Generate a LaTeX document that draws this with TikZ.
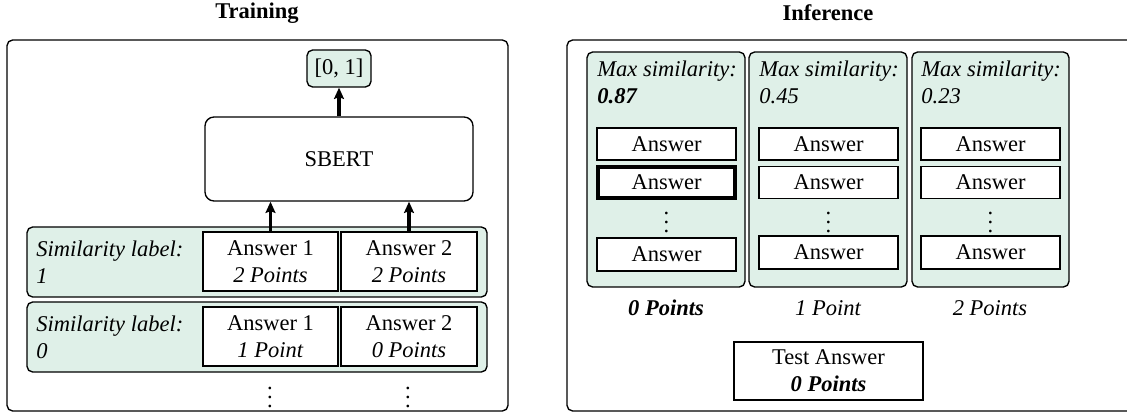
\documentclass[tikz,border=0pt]{standalone}
\usepackage{fontspec}
\setmainfont{Liberation Serif}
\usetikzlibrary{arrows.meta}
\definecolor{mint}{RGB}{223,240,232}
\def\pxu{0.4444pt}
\tikzset{
  frame/.style={draw, rounded corners=2.5pt, line width=0.6pt, inner sep=0pt},
  greenbox/.style={draw, fill=mint, rounded corners=2.5pt, line width=0.6pt, inner sep=0pt},
  plainbox/.style={draw, fill=white, line width=0.6pt, inner sep=0pt, align=center},
  thickbox/.style={draw, fill=white, line width=1.6pt, inner sep=0pt, align=center},
  bigbox/.style={draw, fill=white, rounded corners=4pt, line width=0.6pt, inner sep=0pt},
  title/.style={font=\bfseries},
  arr/.style={-{Stealth[length=5pt,width=4.4pt,inset=0.8pt]}, line width=1.5pt},
  lbl/.style={align=left, inner sep=0pt, font=\itshape},
}
\begin{document}
\begin{tikzpicture}[x=0.4444pt, y=-0.4444pt]
\useasboundingbox (0,0) rectangle (1127,414);
% ---------- Training ----------
\node[title] (ttrain) at (257,13) {Training};
\node[frame, minimum width=501*\pxu, minimum height=371*\pxu] (trainbox) at (257.5,225.5) {};
\node[greenbox, minimum width=64*\pxu, minimum height=37*\pxu] (out) at (339,68.5) {[0, 1]};
\node[bigbox, minimum width=268*\pxu, minimum height=84*\pxu] (sbert) at (339,159) {SBERT};
\node[greenbox, minimum width=460*\pxu, minimum height=70*\pxu] (row1) at (257,262) {};
\node[greenbox, minimum width=460*\pxu, minimum height=70*\pxu] (row2) at (257,337) {};
\node[plainbox, minimum width=135*\pxu, minimum height=59*\pxu] (a11) at (270.5,261.5) {Answer 1\\\textit{2 Points}};
\node[plainbox, minimum width=136*\pxu, minimum height=59*\pxu] (a12) at (409,261.5) {Answer 2\\\textit{2 Points}};
\node[plainbox, minimum width=135*\pxu, minimum height=59*\pxu] (a21) at (270.5,336.5) {Answer 1\\\textit{1 Point}};
\node[plainbox, minimum width=136*\pxu, minimum height=59*\pxu] (a22) at (409,336.5) {Answer 2\\\textit{0 Points}};
\node[lbl, anchor=west] (l1) at (36,262) {Similarity label:\\1};
\node[lbl, anchor=west] (l2) at (36,337) {Similarity label:\\0};
\node (d1) at (270,391) {$\vdots$};
\node (d2) at (408,391) {$\vdots$};
\draw[arr] (a11.north) -- (a11.north |- sbert.south);
\draw[arr] (a12.north) -- (a12.north |- sbert.south);
\draw[arr] (sbert.north) -- (out.south);
% ---------- Inference ----------
\node[title] (tinf) at (828,13) {Inference};
\node[frame, minimum width=570*\pxu, minimum height=371*\pxu] (infbox) at (852,225.5) {};
\node[greenbox, minimum width=158*\pxu, minimum height=235*\pxu] (c1) at (666,169.5) {};
\node[greenbox, minimum width=158*\pxu, minimum height=235*\pxu] (c2) at (828,169.5) {};
\node[greenbox, minimum width=157*\pxu, minimum height=235*\pxu] (c3) at (990.5,169.5) {};
\node[lbl, anchor=north west] (m1) at (597,60) {Max similarity:\\\textbf{0.87}};
\node[lbl, anchor=north west] (m2) at (759,60) {Max similarity:\\0.45};
\node[lbl, anchor=north west] (m3) at (921,60) {Max similarity:\\0.23};
% column 1
\node[plainbox, minimum width=139*\pxu, minimum height=32*\pxu] (b11) at (666.5,144) {Answer};
\node[thickbox, minimum width=137*\pxu, minimum height=31*\pxu] (b12) at (666.5,182.5) {Answer};
\node (e1) at (666.5,216) {$\vdots$};
\node[plainbox, minimum width=139*\pxu, minimum height=33*\pxu] (b13) at (666.5,254.5) {Answer};
% column 2
\node[plainbox, minimum width=139*\pxu, minimum height=32*\pxu] (b21) at (828.5,144) {Answer};
\node[plainbox, minimum width=139*\pxu, minimum height=32*\pxu] (b22) at (828.5,182.5) {Answer};
\node (e2) at (828.5,216) {$\vdots$};
\node[plainbox, minimum width=139*\pxu, minimum height=33*\pxu] (b23) at (828.5,252.5) {Answer};
% column 3
\node[plainbox, minimum width=139*\pxu, minimum height=32*\pxu] (b31) at (990.5,144) {Answer};
\node[plainbox, minimum width=139*\pxu, minimum height=32*\pxu] (b32) at (990.5,182.5) {Answer};
\node (e3) at (990.5,216) {$\vdots$};
\node[plainbox, minimum width=139*\pxu, minimum height=33*\pxu] (b33) at (990.5,252.5) {Answer};
% points
\node[font=\bfseries\itshape] (p1) at (666,308) {0 Points};
\node[font=\itshape] (p2) at (828,308) {1 Point};
\node[font=\itshape] (p3) at (990,308) {2 Points};
\node[plainbox, minimum width=189*\pxu, minimum height=58*\pxu] (test) at (828.5,371) {Test Answer\\\textbf{\textit{0 Points}}};
\end{tikzpicture}
\end{document}
